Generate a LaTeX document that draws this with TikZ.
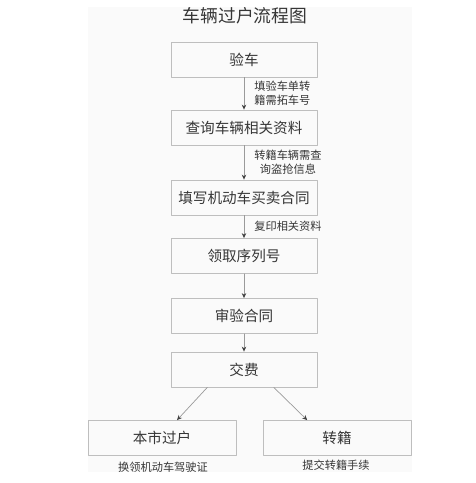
\documentclass[tikz,border=0pt]{standalone}
\usepackage{fontspec}
\usepackage{tikz}
\usetikzlibrary{arrows,arrows.meta}
\newfontfamily\cjk{Noto Sans CJK SC}

\begin{document}
\begin{tikzpicture}[line cap=round,line join=round,>={Stealth[length=5pt,width=4.5pt,color=headgray]},x=1pt,y=-1pt,
  box/.style={draw=boxgray,line width=0.8pt,minimum width=146pt,minimum height=35pt,inner sep=0pt,text=txtgray,font=\cjk\fontsize{14.6}{16}\selectfont},
  note/.style={text=txtgray,align=center,inner sep=0pt,font=\cjk\fontsize{11.2}{14}\selectfont},
  flow/.style={->,color=arrgray,line width=0.7pt}]
\definecolor{boxgray}{HTML}{BEBEBE}
\definecolor{txtgray}{HTML}{363636}
\definecolor{arrgray}{HTML}{9A9A9A}
\definecolor{headgray}{HTML}{404040}
\definecolor{panel}{HTML}{FAFAFA}
\useasboundingbox[fill=white] (0,0) rectangle (475,483);
\fill[color=panel] (88,7) rectangle (412,472);
\node[text=txtgray,font=\cjk\fontsize{17.8}{20}\selectfont] (title) at (245,16) {车辆过户流程图};
\node[box] (check) at (244,59.5) {验车};
\node[box] (query) at (244,127.5) {查询车辆相关资料};
\node[box] (contract) at (244,197.5) {填写机动车买卖合同};
\node[box] (serial) at (244,256) {领取序列号};
\node[box] (audit) at (244,316) {审验合同};
\node[box] (fee) at (244,369.5) {交费};
\node[box,minimum width=148pt] (local) at (162,438) {本市过户};
\node[box,minimum width=148pt] (transfer) at (337,438) {转籍};
\node[note] (localnote) at (163,467) {换领机动车驾驶证};
\node[note] (transnote) at (336,465) {提交转籍手续};
\draw[flow] (check) -- (query) node[midway,right=10pt,note] {填验车单转\\籍需拓车号};
\draw[flow] (query) -- (contract) node[midway,right=10pt,note] {转籍车辆需查\\询盗抢信息};
\draw[flow] (contract) -- (serial) node[midway,right=10pt,note] {复印相关资料};
\draw[flow] (serial) -- (audit);
\draw[flow] (audit) -- (fee);
\draw[flow] (fee.206) -- (local.50);
\draw[flow] (fee.329) -- (transfer.149);
\end{tikzpicture}
\end{document}
